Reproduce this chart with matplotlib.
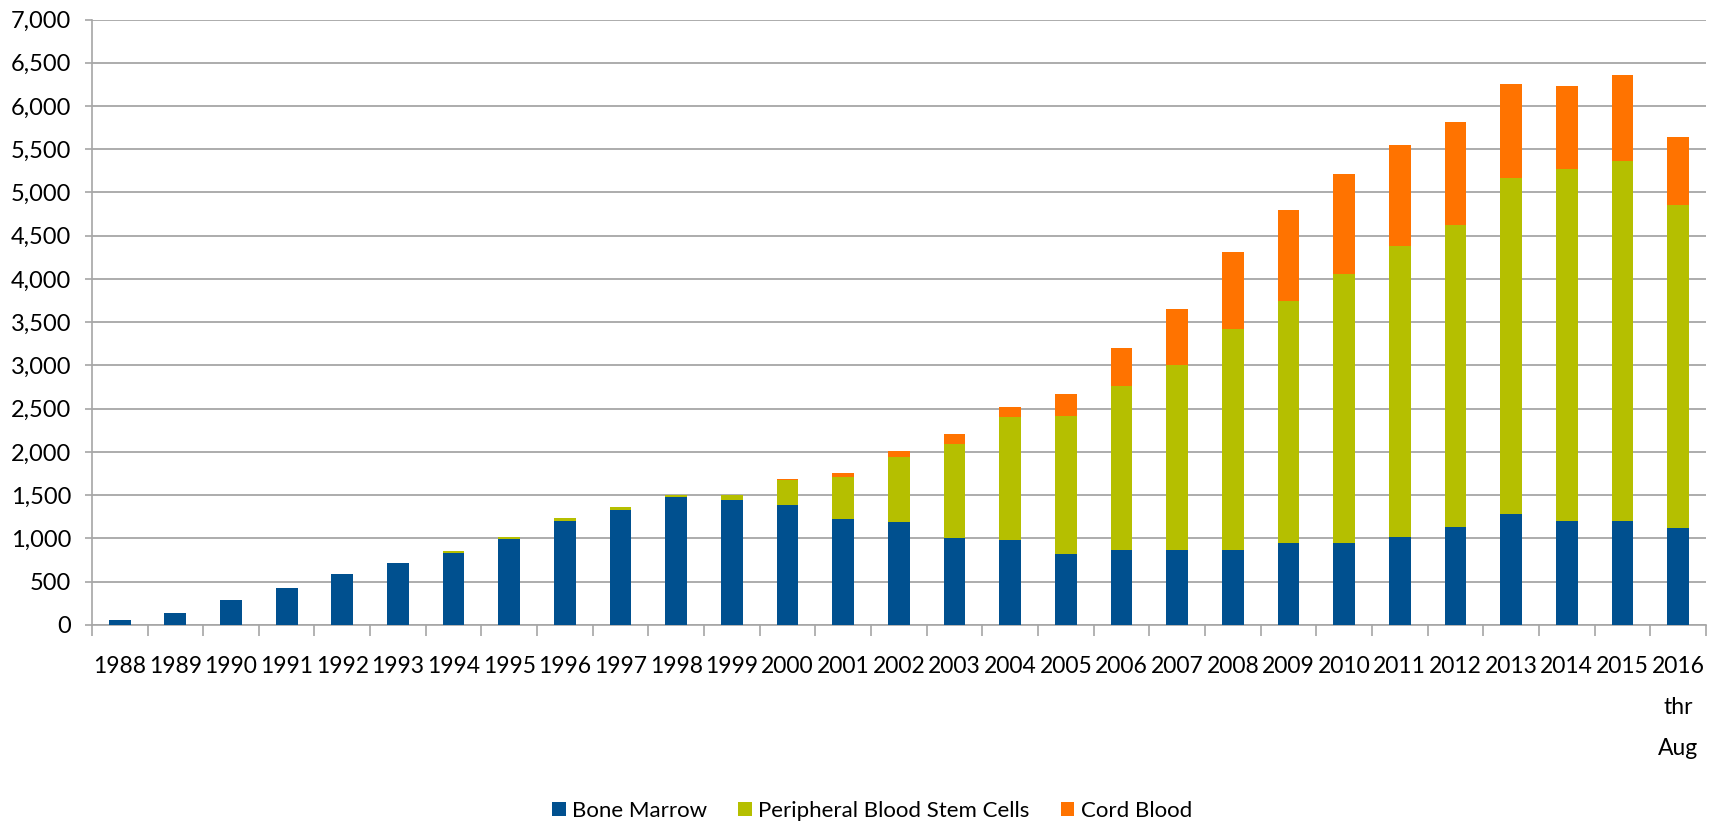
import numpy as np
import matplotlib
matplotlib.use("Agg")
from matplotlib import pyplot as plt
import matplotlib.ticker as ticker

years = [str(y) for y in range(1988, 2016)] + ["2016\nthr\nAug"]

bone_marrow = [58, 143, 290, 425, 591, 711, 831, 993, 1198, 1330,
               1476, 1446, 1388, 1222, 1195, 1010, 983, 821, 862, 871,
               871, 946, 946, 1017, 1136, 1282, 1207, 1207, 1118]
pbsc_top = [58, 143, 290, 425, 591, 711, 858, 1012, 1233, 1361,
            1503, 1503, 1677, 1708, 1939, 2097, 2402, 2421, 2760, 3006,
            3417, 3749, 4054, 4381, 4620, 5168, 5274, 5363, 4859]
cord_top = [58, 143, 290, 425, 591, 711, 858, 1012, 1233, 1361,
            1503, 1503, 1685, 1762, 2008, 2205, 2517, 2668, 3205, 3656,
            4310, 4797, 5212, 5553, 5818, 6260, 6233, 6353, 5641]

bm = np.array(bone_marrow)
pb = np.array(pbsc_top) - bm
cb = np.array(cord_top) - np.array(pbsc_top)

plt.rcParams['font.family'] = ['Lato', 'DejaVu Sans']

fig = plt.figure(figsize=(17.17, 8.23), dpi=100)
ax = fig.add_axes([0.0535, 0.2406, 0.94, 0.7357])

x = np.arange(len(years))
w = 0.39
ax.bar(x, bm, w, color="#00508f", label="Bone Marrow", zorder=3)
ax.bar(x, pb, w, bottom=bm, color="#b5bf00",
       label="Peripheral Blood Stem Cells", zorder=3)
ax.bar(x, cb, w, bottom=bm + pb, color="#ff7300", label="Cord Blood", zorder=3)

ax.set_xlim(-0.5, len(years) - 0.5)
ax.set_ylim(0, 7000)
ax.yaxis.set_major_locator(ticker.MultipleLocator(500))
ax.yaxis.set_major_formatter(ticker.FuncFormatter(lambda v, p: f"{int(v):,}"))
ax.grid(axis="y", color="#a6a6a6", linewidth=1.3, zorder=0)

ax.set_xticks(x)
ax.set_xticklabels(years, linespacing=2.2)
ax.set_xticks(np.arange(len(years) + 1) - 0.5, minor=True)
ax.tick_params(axis="x", which="major", length=0, pad=22, labelsize=16.5)
ax.tick_params(axis="x", which="minor", length=8, width=1.2, color="#a6a6a6")
ax.tick_params(axis="y", length=5, width=1.2, color="#a6a6a6", labelsize=17, pad=10)

for s in ["top", "right"]:
    ax.spines[s].set_visible(False)
for s in ["left", "bottom"]:
    ax.spines[s].set_color("#a6a6a6")
    ax.spines[s].set_linewidth(1.2)

handles, labels = ax.get_legend_handles_labels()
fig.legend(handles, labels, loc="center", bbox_to_anchor=(0.508, 0.015),
           ncol=3, frameon=False, fontsize=16, handlelength=0.6,
           handleheight=0.6, handletextpad=0.3, columnspacing=1.4)

fig.savefig("out.png", dpi=100)
